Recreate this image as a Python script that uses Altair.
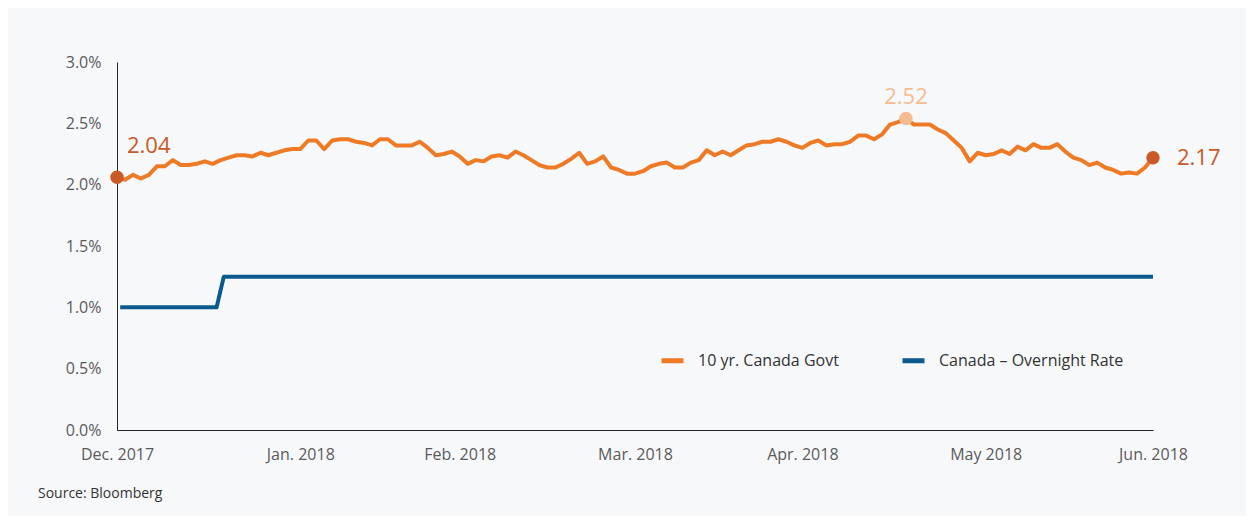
import json
import altair as alt
import pandas as pd

# ---- data ----
series_names = ["10 yr. Canada Govt", "Canada – Overnight Rate"]

gov_10y = [
    2.06, 2.04, 2.08, 2.05, 2.08, 2.15, 2.15, 2.20, 2.16, 2.16, 2.17, 2.19, 2.17, 2.20, 2.22, 2.24,
    2.24, 2.23, 2.26, 2.24, 2.26, 2.28, 2.29, 2.29, 2.36, 2.36, 2.29, 2.36, 2.37, 2.37, 2.35, 2.34,
    2.32, 2.37, 2.37, 2.32, 2.32, 2.32, 2.35, 2.30, 2.24, 2.25, 2.27, 2.23, 2.17, 2.20, 2.19, 2.23,
    2.24, 2.22, 2.27, 2.24, 2.20, 2.16, 2.14, 2.14, 2.17, 2.21, 2.26, 2.17, 2.19, 2.23, 2.14, 2.12,
    2.09, 2.09, 2.11, 2.15, 2.17, 2.18, 2.14, 2.14, 2.18, 2.20, 2.28, 2.24, 2.27, 2.24, 2.28, 2.32,
    2.33, 2.35, 2.35, 2.37, 2.35, 2.32, 2.30, 2.34, 2.36, 2.32, 2.33, 2.33, 2.35, 2.40, 2.40, 2.37,
    2.41, 2.49, 2.51, 2.54, 2.49, 2.49, 2.49, 2.45, 2.42, 2.36, 2.30, 2.19, 2.26, 2.24, 2.25, 2.28,
    2.25, 2.31, 2.28, 2.33, 2.30, 2.30, 2.33, 2.27, 2.22, 2.20, 2.16, 2.18, 2.14, 2.12, 2.09, 2.10,
    2.09, 2.14, 2.22,
]

overnight_idx = [0.4, 12.5, 13.4, 130]
overnight_val = [1.0, 1.0, 1.25, 1.25]

tick_idx = [0, 23, 43, 65, 86, 109, 130]
tick_labels = ["Dec. 2017", "Jan. 2018", "Feb. 2018", "Mar. 2018", "Apr. 2018", "May 2018", "Jun. 2018"]
y_ticks = [0.0, 0.5, 1.0, 1.5, 2.0, 2.5, 3.0]

ann_idx = [0, 99, 130]
ann_text = ["2.04", "2.52", "2.17"]

source_text = ["Source: Bloomberg"]

# ---- styling ----
ORANGE = "#EF7A26"
BLUE = "#0B5A8E"
DARK_OR = "#C95A27"
LIGHT_OR = "#F5BC92"
BG = "#F7F8FA"
FONT = "Open Sans"

rows = [{"series": series_names[0], "idx": i, "value": v} for i, v in enumerate(gov_10y)]
rows += [{"series": series_names[1], "idx": i, "value": v} for i, v in zip(overnight_idx, overnight_val)]
lines_df = pd.DataFrame(rows)

label_expr = f"{json.dumps(tick_labels)}[indexof({json.dumps(tick_idx)}, datum.value)]"

x_enc = alt.X(
    "idx:Q",
    scale=alt.Scale(domain=[0, 130], nice=False, zero=False),
    axis=alt.Axis(
        values=tick_idx, labelExpr=label_expr, title=None, ticks=False, grid=False,
        domainColor="#222222", domainWidth=1, labelFontSize=16, labelFont=FONT,
        labelColor="#5A5A5A", labelPadding=16, labelFlush=False, labelOverlap=False,
    ),
)
y_enc = alt.Y(
    "value:Q",
    scale=alt.Scale(domain=[0, 3], nice=False, zero=True),
    axis=alt.Axis(
        values=y_ticks, labelExpr="format(datum.value, '.1f') + '%'", title=None,
        ticks=False, grid=False, domainColor="#222222", domainWidth=1,
        labelFontSize=16, labelFont=FONT, labelColor="#5A5A5A", labelPadding=16,
        labelFlush=False, labelOverlap=False,
    ),
)

lines = alt.Chart(lines_df).mark_line(strokeWidth=4, strokeJoin="round").encode(
    x=x_enc,
    y=y_enc,
    color=alt.Color(
        "series:N",
        scale=alt.Scale(domain=series_names, range=[ORANGE, BLUE]),
        legend=alt.Legend(title=None),
    ),
)

layers = [lines]
dot_colors = [DARK_OR, LIGHT_OR, DARK_OR]
dxs = [10, 0, 24]
dys = [-31, -21, 0]
aligns = ["left", "center", "left"]
for k, i in enumerate(ann_idx):
    df = pd.DataFrame({"idx": [i], "value": [gov_10y[i]], "text": [ann_text[k]]})
    layers.append(
        alt.Chart(df).mark_circle(size=180, opacity=1, color=dot_colors[k]).encode(
            x="idx:Q", y="value:Q"
        )
    )
    layers.append(
        alt.Chart(df).mark_text(
            align=aligns[k], baseline="middle", dx=dxs[k], dy=dys[k],
            fontSize=22, font=FONT, color=dot_colors[k],
        ).encode(x="idx:Q", y="value:Q", text="text:N")
    )

src = alt.Chart(pd.DataFrame({"t": source_text})).mark_text(
    align="left", baseline="middle", fontSize=14, font=FONT, color="#333333"
).encode(x=alt.value(-79), y=alt.value(432), text="t:N")
layers.append(src)

chart = (
    alt.layer(*layers)
    .properties(
        width=1036,
        height=368,
        padding={"left": 109, "top": 54, "right": 93, "bottom": 86},
        autosize=alt.AutoSizeParams(type="none"),
        background=BG,
    )
    .configure_view(stroke=None)
    .configure_legend(
        orient="none", legendX=542, legendY=285, direction="horizontal",
        symbolType="stroke", symbolStrokeWidth=5, symbolSize=484,
        labelFontSize=16, labelFont=FONT, labelColor="#333333", labelLimit=400,
        columnPadding=53, labelOffset=12,
    )
)

chart.save("out.html", embed_options={"renderer": "svg", "actions": False})
